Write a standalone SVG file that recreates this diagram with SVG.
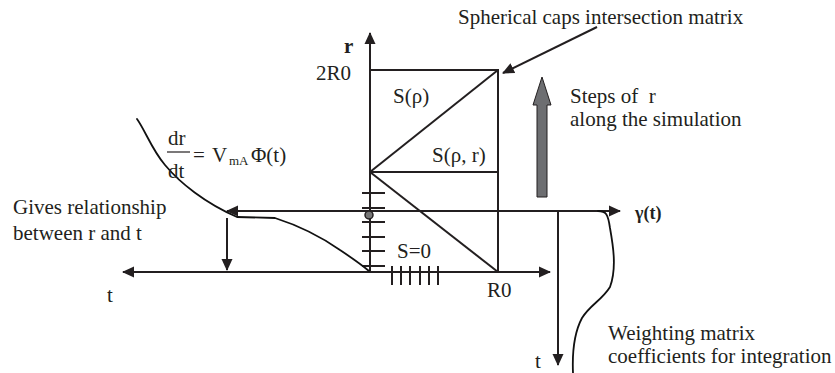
<svg xmlns="http://www.w3.org/2000/svg" width="835" height="373" viewBox="0 0 835 373">
<style>
.t{font-family:"Liberation Serif","Times New Roman",serif;font-size:21px;fill:#231f20}
.b{font-weight:bold}
.ln{stroke:#231f20;stroke-width:2;fill:none}
.cv{stroke:#111;stroke-width:1.8;fill:none;stroke-linejoin:round;stroke-linecap:round}
.tk{stroke:#231f20;stroke-width:2}
</style>
<defs>
<marker id="ah" viewBox="0 0 12 12" refX="11" refY="6" markerWidth="12" markerHeight="12" markerUnits="userSpaceOnUse" orient="auto">
<path d="M0,0.5 L12,6 L0,11.5 Z" fill="#231f20"/>
</marker>
</defs>
<rect width="835" height="373" fill="#fff"/>

<g id="matrix">
<path class="ln" d="M370,70 H498 V272"/>
<path class="ln" d="M370,172 L498,70"/>
<path class="ln" d="M370,172 H498"/>
<path class="ln" d="M370,172 L498,272"/>
</g>

<g id="r-ticks">
<path class="tk" d="M362,193 H385 M362,208 H385 M362,222 H385 M362,237 H385 M362,251 H385 M362,266 H385"/>
</g>
<g id="t-ticks">
<path class="tk" d="M392,266 V285 M401,266 V285 M410,266 V285 M420,266 V285 M429,266 V285 M438,266 V285"/>
</g>

<g id="connectors">
<line class="ln" x1="370" y1="272" x2="370" y2="33" marker-end="url(#ah)"/>
<line class="ln" x1="370" y1="272" x2="550" y2="272" marker-end="url(#ah)"/>
<line class="ln" x1="370" y1="272" x2="123" y2="272" marker-end="url(#ah)"/>
<line class="ln" x1="370" y1="211" x2="620" y2="211" marker-end="url(#ah)"/>
<line class="ln" x1="370" y1="211" x2="227" y2="211" marker-end="url(#ah)"/>
<line class="ln" x1="227" y1="218" x2="227" y2="270" marker-end="url(#ah)"/>
<line class="ln" x1="558" y1="211" x2="558" y2="365" marker-end="url(#ah)"/>
<line class="ln" x1="597" y1="27" x2="503" y2="73" marker-end="url(#ah)"/>
</g>

<g id="dot"><circle cx="369" cy="215" r="4" fill="#777" stroke="#231f20" stroke-width="1.5"/></g>

<g id="steps-arrow">
<path d="M542,77 L551,105 L547,105 L547,197 L537,197 L537,105 L533,105 Z" fill="#6d6e71" stroke="#231f20" stroke-width="1"/>
</g>

<g id="curve-left">
<path class="cv" d="M137,119 C145,130 152,150 165,165 C180,183 205,203 237,217 L275,218 C300,226 320,236 340,250 C355,260 363,266 369,271"/>
</g>
<g id="curve-right">
<path class="cv" d="M598,211 C606,211 608,214 610,228 C613,245 617,268 610,287 C602,300 590,305 582,318 C574,333 572,350 573,373"/>
</g>

<g id="labels">
<text class="t" x="458" y="24">Spherical caps intersection matrix</text>
<text class="t b" x="344" y="53">r</text>
<text class="t" x="316" y="80">2R0</text>
<text class="t" x="393" y="103">S(ρ)</text>
<text class="t" x="570" y="103" xml:space="preserve">Steps of  r</text>
<text class="t" x="570" y="126">along the simulation</text>
<text class="t" x="432" y="162">S(ρ, r)</text>
<text class="t" x="13" y="214">Gives relationship</text>
<text class="t" x="13" y="240">between r and t</text>
<text class="t b" x="635" y="219" style="font-size:18px">γ(t)</text>
<text class="t" x="397" y="258">S=0</text>
<text class="t" x="487" y="297">R0</text>
<text class="t" x="107" y="302">t</text>
<text class="t" x="535" y="368">t</text>
<text class="t" x="608" y="340">Weighting matrix</text>
<text class="t" x="608" y="363">coefficients for integration</text>
</g>

<g id="equation">
<text class="t" x="168" y="145">dr</text>
<line x1="167" y1="152" x2="190" y2="152" stroke="#231f20" stroke-width="1.2"/>
<text class="t" x="168" y="178">dt</text>
<text class="t" x="193" y="162">=</text>
<text class="t" x="212" y="162">V</text>
<text class="t" x="229" y="165" style="font-size:13px">mA</text>
<text class="t" x="251" y="162">Φ(t)</text>
</g>
</svg>
